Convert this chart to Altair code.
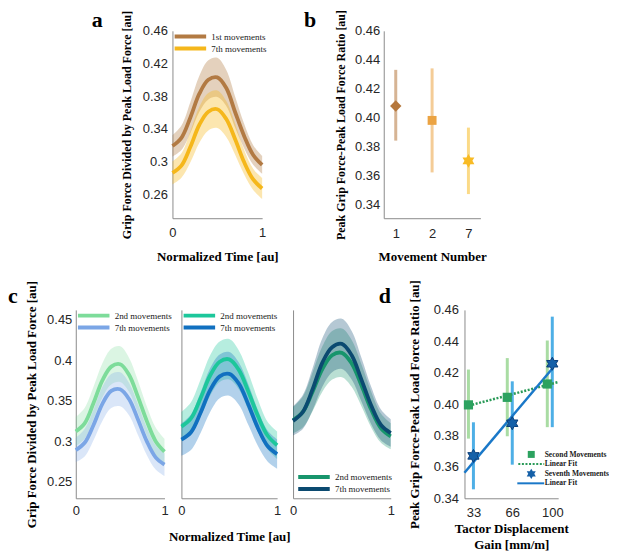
import altair as alt
import pandas as pd

# ---------------- values ----------------
t = [0.0, 0.1, 0.2, 0.3, 0.4, 0.5, 0.6, 0.7, 0.8, 0.9, 1.0]

# panel a
a_names = ["1st movements", "7th movements"]
a1_mean = [0.319, 0.329, 0.354, 0.383, 0.400, 0.403, 0.390, 0.360, 0.331, 0.308, 0.296]
a1_hi = [0.332, 0.344, 0.373, 0.405, 0.424, 0.427, 0.412, 0.379, 0.346, 0.320, 0.307]
a1_lo = [0.306, 0.314, 0.335, 0.361, 0.376, 0.379, 0.368, 0.341, 0.316, 0.296, 0.285]
a7_mean = [0.286, 0.295, 0.318, 0.345, 0.361, 0.364, 0.352, 0.327, 0.299, 0.278, 0.267]
a7_hi = [0.300, 0.310, 0.337, 0.367, 0.384, 0.387, 0.374, 0.346, 0.314, 0.291, 0.280]
a7_lo = [0.272, 0.280, 0.299, 0.323, 0.338, 0.341, 0.330, 0.308, 0.284, 0.265, 0.254]

# panel b
b_movement = ["1", "2", "7"]
b_mean = [0.408, 0.398, 0.370]
b_lo = [0.384, 0.362, 0.347]
b_hi = [0.433, 0.434, 0.393]

# panel c (three sub panels)
c_names = ["2nd movements", "7th movements"]
c1_2_mean = [0.312, 0.322, 0.347, 0.375, 0.392, 0.395, 0.382, 0.355, 0.325, 0.300, 0.287]
c1_2_hi = [0.330, 0.341, 0.367, 0.396, 0.414, 0.417, 0.403, 0.375, 0.343, 0.317, 0.303]
c1_2_lo = [0.294, 0.303, 0.327, 0.354, 0.370, 0.373, 0.361, 0.335, 0.307, 0.283, 0.271]
c1_7_mean = [0.289, 0.298, 0.320, 0.346, 0.362, 0.364, 0.352, 0.327, 0.300, 0.280, 0.271]
c1_7_hi = [0.304, 0.315, 0.339, 0.367, 0.383, 0.385, 0.372, 0.346, 0.317, 0.295, 0.285]
c1_7_lo = [0.274, 0.281, 0.301, 0.325, 0.341, 0.343, 0.332, 0.308, 0.283, 0.265, 0.257]

c2_2_mean = [0.318, 0.328, 0.353, 0.381, 0.398, 0.401, 0.388, 0.361, 0.331, 0.307, 0.295]
c2_2_hi = [0.336, 0.348, 0.376, 0.406, 0.423, 0.426, 0.412, 0.384, 0.351, 0.324, 0.312]
c2_2_lo = [0.300, 0.308, 0.330, 0.356, 0.373, 0.376, 0.364, 0.338, 0.311, 0.290, 0.278]
c2_7_mean = [0.302, 0.311, 0.335, 0.363, 0.380, 0.383, 0.371, 0.345, 0.316, 0.294, 0.284]
c2_7_hi = [0.322, 0.333, 0.360, 0.390, 0.407, 0.410, 0.397, 0.370, 0.338, 0.313, 0.302]
c2_7_lo = [0.282, 0.289, 0.310, 0.336, 0.353, 0.356, 0.345, 0.320, 0.294, 0.275, 0.266]

c3_2_mean = [0.326, 0.336, 0.361, 0.389, 0.406, 0.409, 0.396, 0.369, 0.339, 0.316, 0.306]
c3_2_hi = [0.342, 0.355, 0.385, 0.417, 0.436, 0.439, 0.425, 0.395, 0.361, 0.334, 0.322]
c3_2_lo = [0.310, 0.317, 0.337, 0.361, 0.376, 0.379, 0.367, 0.343, 0.317, 0.298, 0.290]
c3_7_mean = [0.325, 0.336, 0.364, 0.397, 0.416, 0.420, 0.406, 0.376, 0.344, 0.320, 0.310]
c3_7_hi = [0.343, 0.357, 0.390, 0.427, 0.447, 0.451, 0.436, 0.403, 0.367, 0.339, 0.327]
c3_7_lo = [0.307, 0.315, 0.338, 0.367, 0.385, 0.389, 0.376, 0.349, 0.321, 0.301, 0.293]

# panel d
d_gain = [33, 66, 100]
d2_mean = [0.3995, 0.4043, 0.4128]
d2_lo = [0.3780, 0.3795, 0.3853]
d2_hi = [0.4220, 0.4293, 0.4405]
d7_mean = [0.3670, 0.3878, 0.4257]
d7_lo = [0.3457, 0.3614, 0.3853]
d7_hi = [0.3884, 0.4145, 0.4557]
fit2_x = [29.0, 105.0]
fit2_y = [0.3990, 0.4140]
fit7_x = [25.4, 101.0]
fit7_y = [0.3563, 0.4235]
d_legend_labels = ["Second Movements", "Linear Fit", "Seventh Movements", "Linear Fit"]

panel_letters = ["a", "b", "c", "d"]

# ---------------- styling ----------------
SANS = "Liberation Sans"
SERIF = "Liberation Serif"
HEX = ("M0,-1L0.2887,-0.5L0.866,-0.5L0.5774,0L0.866,0.5L0.2887,0.5L0,1"
       "L-0.2887,0.5L-0.866,0.5L-0.5774,0L-0.866,-0.5L-0.2887,-0.5Z")
GRIP_TITLE = "Grip Force Divided by Peak Load Force [au]"
RATIO_TITLE = "Peak Grip Force-Peak Load Force Ratio [au]"


def letter(ch, dx, dy):
    return alt.Chart(pd.DataFrame({"letter": [ch]})).mark_text(
        font=SERIF, fontWeight="bold", fontSize=22, align="left",
        baseline="alphabetic", color="black"
    ).encode(x=alt.value(dx), y=alt.value(dy), text="letter:N")


def curve_panel(names, series, colors, band_op, ydom, yvals,
                show_y, xtitle, xtitle_pad, xlabel_pad, legend_orient, legend_offset,
                ylab_pad=5, ytitle_pad=9, ytitle_size=13):
    rows = []
    for n, (m, lo, hi) in zip(names, series):
        for ti, mi, li, hv in zip(t, m, lo, hi):
            rows.append({"t": ti, "name": n, "mean": mi, "lo": li, "hi": hv})
    df = pd.DataFrame(rows)
    xaxis = alt.Axis(values=[0, 1], format="d", labelFlush=False,
                     labelPadding=xlabel_pad, title=xtitle, titlePadding=xtitle_pad)
    if show_y:
        yaxis = alt.Axis(values=yvals, format=".2~f", title=GRIP_TITLE,
                         titleFontSize=ytitle_size,
                         labelPadding=ylab_pad, titlePadding=ytitle_pad)
    else:
        yaxis = alt.Axis(values=yvals, labels=False, title=None)
    xs = alt.Scale(domain=[0, 1], nice=False, zero=False)
    ys = alt.Scale(domain=ydom, nice=False, zero=False)
    legend = alt.Legend(
        orient=legend_orient, offset=legend_offset, padding=0, title=None,
        symbolType="stroke", symbolSize=1000, symbolStrokeWidth=4, symbolOpacity=1,
        clipHeight=11.5, rowPadding=0, labelFont=SERIF, labelFontSize=9,
        labelColor="#1a1a1a", labelOffset=3, labelLimit=0,
    )
    cscale = alt.Scale(domain=names, range=colors)
    band = alt.Chart(df).mark_area(interpolate="catmull-rom", opacity=band_op).encode(
        x=alt.X("t:Q", scale=xs, axis=xaxis),
        y=alt.Y("lo:Q", scale=ys, axis=yaxis, stack=None),
        y2="hi:Q",
        color=alt.Color("name:N", scale=cscale, legend=legend),
    )
    line = alt.Chart(df).mark_line(interpolate="catmull-rom", strokeWidth=3.8).encode(
        x=alt.X("t:Q", scale=xs, axis=xaxis),
        y=alt.Y("mean:Q", scale=ys, axis=yaxis),
        color=alt.Color("name:N", scale=cscale, legend=legend),
    )
    return band, line


def spacer(w, h):
    return alt.Chart(pd.DataFrame({"v": [0]})).mark_point(opacity=0).encode(
        x=alt.X("v:Q", axis=None), y=alt.Y("v:Q", axis=None)
    ).properties(width=w, height=h)


# ---------------- panel a ----------------
a_band, a_line = curve_panel(
    a_names, [(a1_mean, a1_lo, a1_hi), (a7_mean, a7_lo, a7_hi)],
    ["#b27a43", "#f5b71b"], 0.35, [0.2306, 0.46],
    [0.26, 0.30, 0.34, 0.38, 0.42, 0.46], True, "Normalized Time [au]", 11, 8,
    "top-left", 0, ytitle_size=12,
)
panel_a = alt.layer(a_band, a_line, letter(panel_letters[0], -81, -4)).properties(
    width=90, height=188)

# ---------------- panel b ----------------
df_b = pd.DataFrame({"movement": b_movement, "mean": b_mean, "lo": b_lo, "hi": b_hi})
b_colors = ["#b5773c", "#eba342", "#f8bb25"]
b_shapes = ["diamond", "square", HEX]
b_sizes = [130, 80, 190]
bx = alt.X("movement:O", scale=alt.Scale(type="point", domain=b_movement, padding=0.33),
           axis=alt.Axis(labelAngle=0, labelPadding=9, title="Movement Number",
                         titlePadding=10))
by_axis = alt.Axis(values=[0.34, 0.36, 0.38, 0.40, 0.42, 0.44, 0.46], format=".2f",
                   title=RATIO_TITLE, titleFontSize=12,
                   labelPadding=4, titlePadding=7)
by_scale = alt.Scale(domain=[0.3303, 0.46], nice=False, zero=False)
b_bars = alt.Chart(df_b).mark_rule(strokeWidth=3, opacity=0.55).encode(
    x=bx,
    y=alt.Y("lo:Q", scale=by_scale, axis=by_axis),
    y2="hi:Q",
    color=alt.Color("movement:O", scale=alt.Scale(domain=b_movement, range=b_colors),
                    legend=None),
)
b_layers = [b_bars]
for mv, col, shp, sz in zip(b_movement, b_colors, b_shapes, b_sizes):
    b_layers.append(
        alt.Chart(df_b).transform_filter(alt.datum.movement == mv).mark_point(
            filled=True, opacity=1, shape=shp, size=sz, color=col
        ).encode(x=bx, y=alt.Y("mean:Q", scale=by_scale, axis=by_axis))
    )
panel_b = alt.layer(*b_layers, letter(panel_letters[1], -80, -4)).properties(
    width=97, height=188)

# ---------------- panel c ----------------
c_yvals = [0.25, 0.30, 0.35, 0.40, 0.45]
c_dom = [0.2295, 0.462]
c1_band, c1_line = curve_panel(
    c_names, [(c1_2_mean, c1_2_lo, c1_2_hi), (c1_7_mean, c1_7_lo, c1_7_hi)],
    ["#7ddc9a", "#7ba6e6"], 0.28, c_dom, c_yvals, True, None, 0, 6,
    "top-left", 0, ylab_pad=4, ytitle_pad=8,
)
panel_c1 = alt.layer(c1_band, c1_line, letter(panel_letters[2], -68, -7)).properties(
    width=89, height=189)

c2_band, c2_line = curve_panel(
    c_names, [(c2_2_mean, c2_2_lo, c2_2_hi), (c2_7_mean, c2_7_lo, c2_7_hi)],
    ["#1dc79b", "#1170c0"], 0.32, c_dom, c_yvals, False,
    "Normalized Time [au]", 13, 6, "top-left", 0,
)
panel_c2 = alt.layer(c2_band, c2_line).properties(width=96, height=189)

c3_band, c3_line = curve_panel(
    c_names, [(c3_2_mean, c3_2_lo, c3_2_hi), (c3_7_mean, c3_7_lo, c3_7_hi)],
    ["#17956c", "#0b4a70"], 0.30, c_dom, c_yvals, False, None, 0, 6,
    "bottom-left", 3,
)
panel_c3 = alt.layer(c3_band, c3_line).properties(width=98, height=189)

# ---------------- panel d ----------------
df_d2 = pd.DataFrame({"gain": d_gain, "mean": d2_mean, "lo": d2_lo, "hi": d2_hi})
df_d7 = pd.DataFrame({"gain": d_gain, "mean": d7_mean, "lo": d7_lo, "hi": d7_hi})
df_f2 = pd.DataFrame({"gain": fit2_x, "val": fit2_y})
df_f7 = pd.DataFrame({"gain": fit7_x, "val": fit7_y})

dxs = alt.Scale(domain=[25.4, 105], nice=False, zero=False)
dys = alt.Scale(domain=[0.34, 0.46], nice=False, zero=False)
dx_axis = alt.Axis(values=d_gain, format="d", labelFlush=False, labelPadding=8,
                   title=["Tactor Displacement", "Gain [mm/m]"], titlePadding=3,
                   titleLineHeight=16)
dy_axis = alt.Axis(values=[0.34, 0.36, 0.38, 0.40, 0.42, 0.44, 0.46], format=".2f",
                   title=RATIO_TITLE, labelPadding=6, titlePadding=12)


def dX(field):
    return alt.X(field, scale=dxs, axis=dx_axis)


def dY(field):
    return alt.Y(field, scale=dys, axis=dy_axis)


d2_bars = alt.Chart(df_d2).mark_rule(strokeWidth=3, color="#a9dca3", xOffset=-5).encode(
    x=dX("gain:Q"), y=dY("lo:Q"), y2="hi:Q")
d7_bars = alt.Chart(df_d7).mark_rule(strokeWidth=3, color="#4eafe6").encode(
    x=dX("gain:Q"), y=dY("lo:Q"), y2="hi:Q")
f2_line = alt.Chart(df_f2).mark_line(strokeWidth=2.5, color="#2a9a58",
                                     strokeDash=[2, 1.6]).encode(
    x=dX("gain:Q"), y=dY("val:Q"))
f7_line = alt.Chart(df_f7).mark_line(strokeWidth=2.5, color="#1a78c8").encode(
    x=dX("gain:Q"), y=dY("val:Q"))
d2_pts = alt.Chart(df_d2).mark_point(shape="square", filled=True, size=85, opacity=1,
                                     color="#2ca25f", xOffset=-5).encode(
    x=dX("gain:Q"), y=dY("mean:Q"))
d7_pts = alt.Chart(df_d7).mark_point(shape=HEX, filled=True, size=170, opacity=1,
                                     color="#1560a8", stroke="#0b3d78",
                                     strokeWidth=1).encode(
    x=dX("gain:Q"), y=dY("mean:Q"))

one = pd.DataFrame({"k": [0]})
leg_sq = alt.Chart(one).mark_point(shape="square", filled=True, size=49, opacity=1,
                                   color="#2ca25f").encode(
    x=alt.value(67), y=alt.value(145))
leg_dot = alt.Chart(one).mark_rule(strokeWidth=2, color="#2a9a58",
                                   strokeDash=[2, 1.6]).encode(
    x=alt.value(54), x2=alt.value(80), y=alt.value(154.5))
leg_star = alt.Chart(one).mark_point(shape=HEX, filled=True, size=110, opacity=1,
                                     color="#1560a8").encode(
    x=alt.value(67), y=alt.value(164.5))
leg_line = alt.Chart(one).mark_rule(strokeWidth=2, color="#1a78c8").encode(
    x=alt.value(53), x2=alt.value(80), y=alt.value(174))
leg_texts = []
for lab, yy in zip(d_legend_labels, [145.5, 155, 164.5, 174]):
    leg_texts.append(
        alt.Chart(pd.DataFrame({"lab": [lab]})).mark_text(
            font=SERIF, fontWeight="bold", fontSize=7.5, align="left",
            baseline="middle", color="#1a1a1a"
        ).encode(x=alt.value(80.5), y=alt.value(yy), text="lab:N")
    )

panel_d = alt.layer(
    d2_bars, d7_bars, f2_line, f7_line, d2_pts, d7_pts,
    leg_sq, leg_dot, leg_star, leg_line, *leg_texts,
    letter(panel_letters[3], -86, -7),
).properties(width=94, height=189)

# ---------------- layout ----------------
indep = dict(color="independent", fill="independent", shape="independent",
             size="independent")

top = alt.hconcat(spacer(97, 188), panel_a, spacer(122, 188), panel_b,
                  spacing=0, bounds="flush").resolve_scale(**indep)
bottom = alt.hconcat(panel_c1, spacer(17, 189), panel_c2, spacer(16, 189), panel_c3,
                     spacer(74, 189), panel_d,
                     spacing=0, bounds="flush").resolve_scale(**indep)

chart = alt.vconcat(top, bottom, spacing=16).resolve_scale(
    **indep
).properties(
    padding={"left": 0, "top": 0, "right": 0, "bottom": 0}
).configure_view(stroke=None).configure_axis(
    grid=False, ticks=False, domainColor="#8c8c8c", domainWidth=1,
    labelFont=SANS, labelFontSize=13, labelColor="#262626",
    titleFont=SERIF, titleFontWeight="bold", titleFontSize=13, titleColor="#000000",
)

chart.save("out.html", embed_options={"renderer": "svg", "actions": False})
